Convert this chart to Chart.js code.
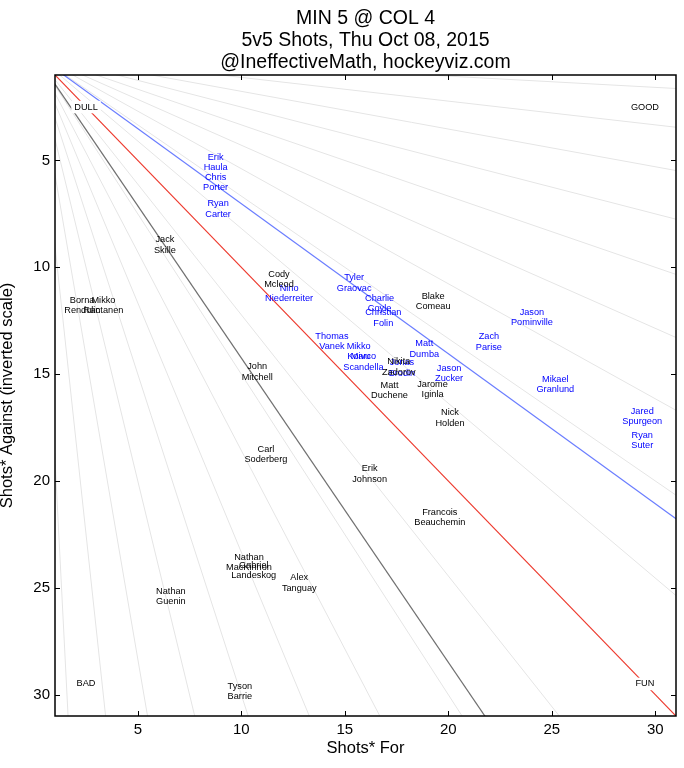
<!DOCTYPE html>
<html>
<head>
<meta charset="utf-8">
<title>MIN 5 @ COL 4</title>
<script src="https://cdn.jsdelivr.net/npm/chart.js@4.4.1/dist/chart.umd.min.js"></script>
<style>
  html, body { margin: 0; padding: 0; background: #fff; }
  canvas { display: block; }
</style>
</head>
<body>
<canvas id="chart" width="684" height="768"></canvas>
<script>
const titleLines = ['MIN 5 @ COL 4', '5v5 Shots, Thu Oct 08, 2015', '@IneffectiveMath, hockeyviz.com'];
const axisTicks = [5, 10, 15, 20, 25, 30];

// Colorado skaters (black)
const colNames = ['Jack\nSkille', 'Cody\nMcleod', 'Blake\nComeau', 'Borna\nRendulic', 'Mikko\nRantanen',
  'John\nMitchell', 'Nikita\nZadorov', 'Matt\nDuchene', 'Jarome\nIginla', 'Nick\nHolden',
  'Carl\nSoderberg', 'Erik\nJohnson', 'Francois\nBeauchemin', 'Nathan\nMacKinnon', 'Gabriel\nLandeskog',
  'Alex\nTanguay', 'Nathan\nGuenin', 'Tyson\nBarrie'];
const colFor = [6.31, 11.82, 19.27, 2.31, 3.34, 10.77, 17.61, 17.16, 19.24, 20.08,
  11.19, 16.2, 19.59, 10.37, 10.6, 12.8, 6.6, 9.93];
const colAgainst = [8.96, 10.58, 11.6, 11.78, 11.78, 14.9, 14.67, 15.76, 15.71, 17.06,
  18.76, 19.67, 21.7, 23.82, 24.19, 24.78, 25.41, 29.84];

// Minnesota skaters (blue)
const minNames = ['Erik\nHaula', 'Chris\nPorter', 'Ryan\nCarter', 'Nino\nNiederreiter', 'Tyler\nGraovac',
  'Charlie\nCoyle', 'Christian\nFolin', 'Thomas\nVanek', 'Mikko\nKoivu', 'Marco\nScandella',
  'Jonas\nBrodin', 'Matt\nDumba', 'Jason\nZucker', 'Zach\nParise', 'Jason\nPominville',
  'Mikael\nGranlund', 'Jared\nSpurgeon', 'Ryan\nSuter'];
const minFor = [8.76, 8.76, 8.88, 12.31, 15.45, 16.68, 16.86, 14.38, 15.67, 15.9,
  17.76, 18.84, 20.04, 21.96, 24.04, 25.17, 29.37, 29.37];
const minAgainst = [5.09, 6.03, 7.26, 11.22, 10.74, 11.7, 12.37, 13.46, 13.95, 14.44,
  14.72, 13.82, 14.96, 13.5, 12.35, 15.48, 16.97, 18.11];

// corner captions
const cornerNames = ['DULL', 'GOOD', 'BAD', 'FUN'];
const cornerFor = [2.5, 29.5, 2.5, 29.5];
const cornerAgainst = [2.5, 2.5, 29.5, 29.5];

// shot-share guide lines (share of shots for)
const guideShares = [0.05, 0.10, 0.15, 0.20, 0.25, 0.30, 0.35, 0.40, 0.45, 0.50,
  0.55, 0.60, 0.65, 0.70, 0.75, 0.80, 0.85, 0.90, 0.95];
const minShare = 0.5875;   // Minnesota share of 5v5 shots
const colShare = 1 - minShare;

const FONT = '"Liberation Sans", Arial, Helvetica, sans-serif';

function shareLine(share) {
  const xEnd = 60;
  return [{ x: 0, y: 0 }, { x: xEnd, y: xEnd * (1 - share) / share }];
}

function toPoints(xs, ys) {
  return xs.map((x, i) => ({ x: x, y: ys[i] }));
}

const labelPlugin = {
  id: 'nameLabels',
  afterDatasetsDraw(chart) {
    const ctx = chart.ctx;
    chart.data.datasets.forEach((ds, i) => {
      if (!ds.names) return;
      const meta = chart.getDatasetMeta(i);
      ctx.save();
      ctx.font = '9.2px ' + FONT;
      ctx.textAlign = 'center';
      ctx.textBaseline = 'middle';
      const lh = 10.5;
      meta.data.forEach((pt, j) => {
        const lines = ds.names[j].split('\n');
        const y0 = pt.y - (lines.length - 1) * lh / 2;
        if (ds.boxed) {
          const w = Math.max(...lines.map(t => ctx.measureText(t).width)) + 6;
          const h = lines.length * lh + 2;
          ctx.fillStyle = '#ffffff';
          ctx.fillRect(pt.x - w / 2, pt.y - h / 2, w, h);
        }
        ctx.fillStyle = ds.labelColor;
        lines.forEach((t, k) => ctx.fillText(t, pt.x, y0 + k * lh));
      });
      ctx.restore();
    });
  }
};

const framePlugin = {
  id: 'frame',
  afterDraw(chart) {
    const { ctx, chartArea: a } = chart;
    const xs = chart.scales.x, ys = chart.scales.y;
    ctx.save();
    ctx.strokeStyle = '#000';
    ctx.lineWidth = 1;
    const tl = 5;
    ctx.beginPath();
    axisTicks.forEach(v => {
      const px = Math.round(xs.getPixelForValue(v)) + 0.5;
      ctx.moveTo(px, a.bottom); ctx.lineTo(px, a.bottom - tl);
      ctx.moveTo(px, a.top); ctx.lineTo(px, a.top + tl);
      const py = Math.round(ys.getPixelForValue(v)) + 0.5;
      ctx.moveTo(a.left, py); ctx.lineTo(a.left + tl, py);
      ctx.moveTo(a.right, py); ctx.lineTo(a.right - tl, py);
    });
    ctx.stroke();
    ctx.lineWidth = 1.5;
    ctx.strokeRect(a.left, a.top, a.right - a.left, a.bottom - a.top);

    // title, centred over the plot area
    ctx.fillStyle = '#000';
    ctx.font = '19.5px ' + FONT;
    ctx.textAlign = 'center';
    ctx.textBaseline = 'middle';
    const cx = (a.left + a.right) / 2;
    titleLines.forEach((t, i) => ctx.fillText(t, cx, 19 + i * 22));
    ctx.restore();
  }
};

const datasets = [];
datasets.push({ names: cornerNames, boxed: true, labelColor: '#000', data: toPoints(cornerFor, cornerAgainst), pointRadius: 0, showLine: false });
datasets.push({ names: minNames, labelColor: '#0000ff', data: toPoints(minFor, minAgainst), pointRadius: 0, showLine: false });
datasets.push({ names: colNames, labelColor: '#000000', data: toPoints(colFor, colAgainst), pointRadius: 0, showLine: false });
datasets.push({ data: shareLine(minShare), showLine: true, borderColor: '#6a7dff', borderWidth: 1.2, pointRadius: 0 });
datasets.push({ data: shareLine(0.5), showLine: true, borderColor: '#f03a2e', borderWidth: 1.2, pointRadius: 0 });
datasets.push({ data: shareLine(colShare), showLine: true, borderColor: '#707070', borderWidth: 1.2, pointRadius: 0 });
guideShares.forEach(s => {
  datasets.push({ data: shareLine(s), showLine: true, borderColor: '#e5e5e5', borderWidth: 1, pointRadius: 0 });
});

const chart = new Chart(document.getElementById('chart'), {
  type: 'scatter',
  data: { datasets: datasets },
  options: {
    responsive: false,
    animation: false,
    events: [],
    layout: { padding: { top: 75, right: 8, bottom: 0, left: 0 } },
    plugins: {
      legend: { display: false },
      title: { display: false },
      tooltip: { enabled: false }
    },
    scales: {
      x: {
        type: 'linear',
        min: 1, max: 31,
        grid: { display: false, drawTicks: false },
        border: { display: false },
        afterBuildTicks: s => { s.ticks = axisTicks.map(v => ({ value: v })); },
        afterFit: s => { s.height = 52; },
        ticks: { color: '#000', font: { family: FONT, size: 15 }, padding: 5, maxRotation: 0 },
        title: { display: true, text: 'Shots* For', color: '#000', font: { family: FONT, size: 16.5 }, padding: { top: 0, bottom: 10 } }
      },
      y: {
        type: 'linear',
        min: 1, max: 31,
        reverse: true,
        grid: { display: false, drawTicks: false },
        border: { display: false },
        afterBuildTicks: s => { s.ticks = axisTicks.map(v => ({ value: v })); },
        afterFit: s => { s.width = 55; },
        ticks: { color: '#000', font: { family: FONT, size: 15 }, padding: 5 },
        title: { display: true, text: 'Shots* Against (inverted scale)', color: '#000', font: { family: FONT, size: 16.5 }, padding: { top: -2, bottom: 0 } }
      }
    }
  },
  plugins: [labelPlugin, framePlugin]
});
</script>
</body>
</html>
